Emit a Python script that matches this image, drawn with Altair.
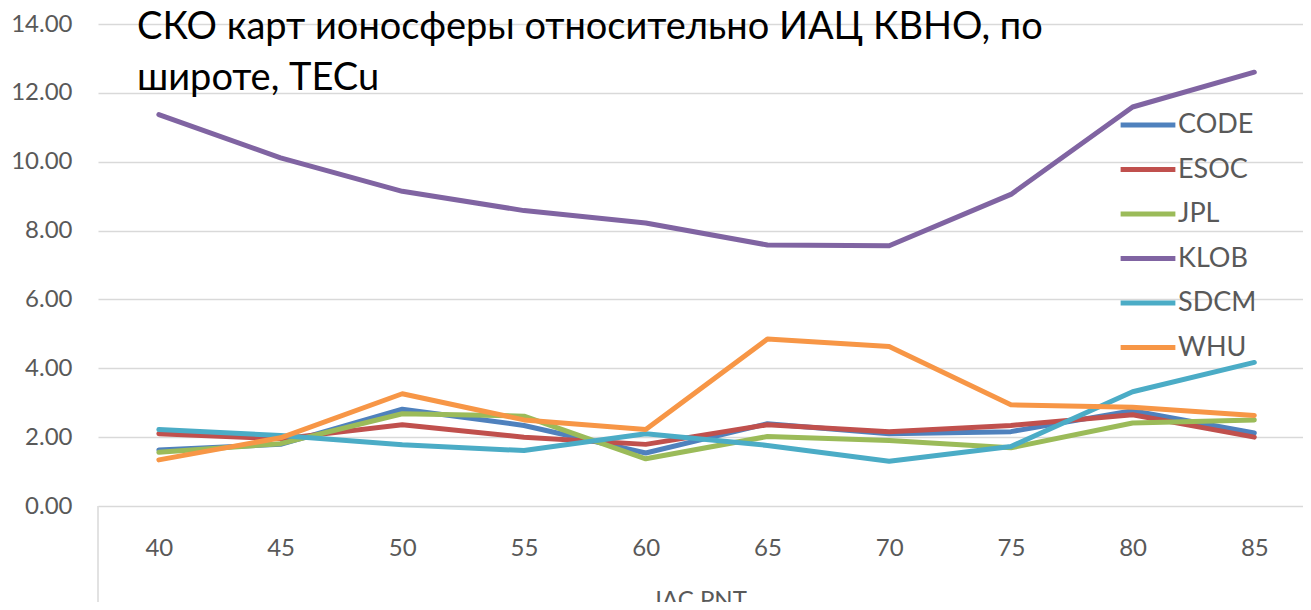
import altair as alt
import pandas as pd

latitudes = [40, 45, 50, 55, 60, 65, 70, 75, 80, 85]
series_names = ["CODE", "ESOC", "JPL", "KLOB", "SDCM", "WHU"]
series_colors = ["#4F81BD", "#C0504D", "#9BBB59", "#8064A2", "#4BACC6", "#F79646"]

CODE = [1.63, 1.79, 2.81, 2.34, 1.54, 2.39, 2.10, 2.16, 2.77, 2.12]
ESOC = [2.10, 1.95, 2.36, 2.00, 1.79, 2.36, 2.16, 2.34, 2.65, 2.00]
JPL = [1.56, 1.81, 2.68, 2.61, 1.37, 2.02, 1.90, 1.69, 2.41, 2.50]
KLOB = [11.37, 10.11, 9.14, 8.58, 8.22, 7.58, 7.56, 9.05, 11.59, 12.60]
SDCM = [2.22, 2.05, 1.78, 1.61, 2.10, 1.76, 1.30, 1.73, 3.32, 4.17]
WHU = [1.34, 1.98, 3.26, 2.50, 2.22, 4.85, 4.63, 2.94, 2.87, 2.63]

title_lines = ["СКО карт ионосферы относительно ИАЦ КВНО, по", "широте, TECu"]
x_title = "IAC PNT"
y_ticks = [0, 2, 4, 6, 8, 10, 12, 14]

values = {"CODE": CODE, "ESOC": ESOC, "JPL": JPL, "KLOB": KLOB, "SDCM": SDCM, "WHU": WHU}
rows = []
for i, name in enumerate(series_names):
    for lat, v in zip(latitudes, values[name]):
        rows.append({"lat": lat, "value": v, "series": name, "order": i})
df = pd.DataFrame(rows)

FONT = "Lato"
GRAY = "#595959"
GRID = "#D9D9D9"

x_scale = alt.Scale(domain=[37.5, 87.0], nice=False, zero=False)

lines = alt.Chart(df).mark_line(strokeWidth=5, strokeCap="round", strokeJoin="round").encode(
    x=alt.X("lat:Q", scale=x_scale,
            axis=alt.Axis(values=latitudes, title=x_title, grid=False, ticks=False, domain=False,
                          labelFontSize=24, labelColor=GRAY, labelFont=FONT, labelPadding=30,
                          titleFontSize=24, titleColor=GRAY, titleFont=FONT, titleFontWeight="normal",
                          titlePadding=28)),
    y=alt.Y("value:Q", scale=alt.Scale(domain=[0, 14], nice=False),
            axis=alt.Axis(values=y_ticks, format=".2f", title=None, grid=True, gridColor=GRID,
                          gridWidth=1.5, ticks=False, domain=False, labelFontSize=24,
                          labelColor=GRAY, labelFont=FONT, labelPadding=26)),
    color=alt.Color("series:N", scale=alt.Scale(domain=series_names, range=series_colors),
                    legend=alt.Legend(title=None, orient="none", legendX=1020, legendY=71,
                                      symbolType="stroke", symbolStrokeWidth=5, symbolSize=3000,
                                      labelFontSize=27, labelColor=GRAY, labelFont=FONT,
                                      rowPadding=1.5, labelOffset=0)),
    order=alt.Order("order:Q"),
    detail="series:N",
)

divider = alt.Chart(pd.DataFrame({"lat": [37.5]})).mark_rule(color=GRID, strokeWidth=1.5, clip=False).encode(
    x=alt.X("lat:Q", scale=x_scale),
    y=alt.value(482),
    y2=alt.value(600),
)

chart = alt.layer(lines, divider).properties(
    width=1205,
    height=482,
    autosize=alt.AutoSizeParams(type="none"),
    padding={"left": 90, "top": 16, "right": 0, "bottom": 96},
    title=alt.Title(title_lines, anchor="start", frame="group", orient="top", offset=0,
                    baseline="top", dx=39, dy=86, fontSize=38, font=FONT, color="#000000",
                    fontWeight="normal", lineHeight=51),
).configure_view(stroke=None)

chart.save("out.html", embed_options={"renderer": "svg", "actions": False})
